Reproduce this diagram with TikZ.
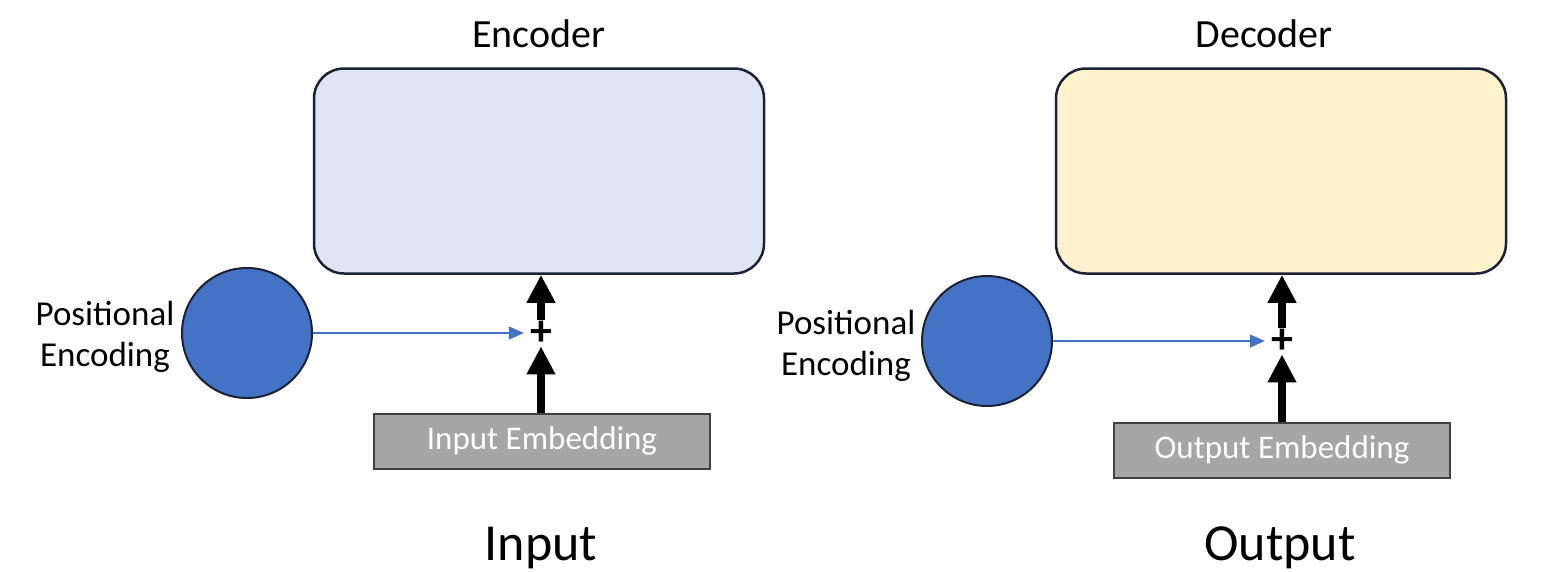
\documentclass[tikz,border=0pt]{standalone}
\usepackage{fontspec}
\setmainfont{Carlito}
\usetikzlibrary{arrows.meta}
\definecolor{encfill}{HTML}{E0E5F6}
\definecolor{decfill}{HTML}{FFF2CC}
\definecolor{peblue}{HTML}{4472C4}
\definecolor{boxline}{HTML}{1C2236}
\definecolor{embgray}{HTML}{A6A6A6}
\definecolor{embline}{HTML}{404040}

\tikzset{
  block/.style={draw=boxline,line width=2.5pt,rounded corners=30pt,
    minimum width=450pt,minimum height=205pt,inner sep=0pt},
  pecircle/.style={circle,draw=boxline,line width=2pt,fill=peblue,
    minimum size=130pt,inner sep=0pt},
  embbox/.style={draw=embline,line width=2pt,fill=embgray,text=white,
    minimum width=336pt,minimum height=55pt,inner sep=0pt,
    font=\fontsize{33}{38}\selectfont},
  title/.style={font=\fontsize{40}{46}\selectfont},
  side/.style={font=\fontsize{52}{60}\selectfont},
  pelabel/.style={align=center,font=\fontsize{35}{41}\selectfont},
  plus/.style={inner sep=1pt,font=\fontsize{44}{44}\selectfont\bfseries},
  up/.style={line width=8pt,-{Triangle[length=28pt,width=27pt]}},
  peline/.style={draw=peblue,line width=1.3pt,shorten >=5pt,
    -{Triangle[length=15pt,width=13pt]}}
}

\begin{document}
\begin{tikzpicture}[x=1pt,y=-1pt]
\useasboundingbox (0,0) rectangle (1543,571);

% encoder side
\node[block,fill=encfill] (enc) at (539,171) {};
\node[title] (encT) at (539,34) {Encoder};
\node[pecircle] (peE) at (247,333) {};
\node[pelabel] (peEt) at (105,337) {Positional\\Encoding};
\node[plus] (plusE) at (541,333) {+};
\node[embbox] (inemb) at (542,441) {Input Embedding};
\node[side] (inT) at (541,548) {Input};
\draw[up] (plusE.north) -- (plusE.north |- enc.south);
\draw[up] (inemb.north -| plusE) -- (plusE.south);
\draw[peline] (peE.east) -- (plusE.west);

% decoder side
\node[block,fill=decfill] (dec) at (1281,171) {};
\node[title] (decT) at (1264,34) {Decoder};
\node[pecircle] (peD) at (987,341) {};
\node[pelabel] (peDt) at (846,346) {Positional\\Encoding};
\node[plus] (plusD) at (1282,341) {+};
\node[embbox] (outemb) at (1282,450) {Output Embedding};
\node[side] (outT) at (1280,548) {Output};
\draw[up] (plusD.north) -- (plusD.north |- dec.south);
\draw[up] (outemb.north -| plusD) -- (plusD.south);
\draw[peline] (peD.east) -- (plusD.west);
\end{tikzpicture}
\end{document}
